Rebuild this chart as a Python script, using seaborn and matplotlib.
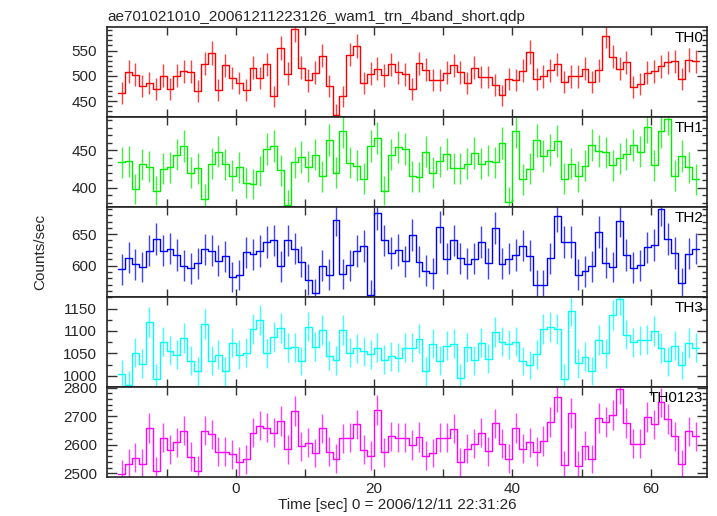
import numpy as np
import pandas as pd
import seaborn as sns
import matplotlib.pyplot as plt
from matplotlib.ticker import MultipleLocator

# 1-s bins, time relative to 2006/12/11 22:31:26
time_sec = np.arange(-16.5, 67.0, 1.0)

th0 = [466, 508, 502, 479, 486, 473, 500, 473, 500, 509,
       508, 469, 524, 545, 471, 521, 496, 486, 471, 516,
       496, 523, 459, 555, 504, 592, 516, 491, 506, 540,
       479, 423, 459, 542, 559, 486, 504, 514, 501, 523,
       507, 503, 473, 525, 512, 492, 492, 506, 521, 507,
       486, 516, 498, 498, 481, 461, 494, 492, 510, 547,
       494, 499, 511, 523, 488, 499, 499, 514, 488, 511,
       579, 538, 514, 527, 477, 483, 506, 509, 519, 527,
       529, 494, 531, 529]
th1 = [434, 435, 398, 431, 428, 396, 425, 427, 444, 455,
       420, 426, 385, 432, 448, 431, 416, 427, 406, 405,
       422, 451, 455, 423, 377, 434, 441, 428, 444, 415,
       464, 420, 475, 433, 429, 412, 455, 466, 396, 444,
       454, 452, 415, 414, 448, 420, 435, 445, 426, 426,
       432, 446, 432, 436, 434, 460, 381, 475, 411, 425,
       463, 442, 450, 462, 412, 432, 415, 429, 457, 449,
       447, 430, 439, 445, 457, 448, 481, 430, 475, 492,
       416, 442, 427, 411]
th2 = [594, 613, 602, 598, 624, 643, 624, 627, 617, 600,
       596, 604, 626, 624, 608, 615, 582, 585, 621, 618,
       623, 637, 640, 599, 640, 627, 606, 578, 556, 600,
       586, 673, 587, 601, 623, 631, 554, 683, 640, 620,
       625, 607, 648, 606, 592, 588, 661, 611, 640, 612,
       603, 611, 638, 604, 660, 603, 611, 617, 632, 616,
       569, 569, 612, 679, 637, 637, 586, 591, 599, 654,
       605, 598, 671, 617, 597, 601, 629, 633, 690, 643,
       620, 573, 619, 627]
th3 = [1003, 980, 1052, 1027, 1121, 994, 1076, 1056, 1047, 1084,
       1034, 1010, 1115, 1034, 1047, 1010, 1074, 1047, 1052, 1104,
       1125, 1050, 1087, 1107, 1063, 1064, 1033, 1110, 1065, 1102,
       1045, 1035, 1102, 1052, 1061, 1055, 1048, 1063, 1036, 1044,
       1040, 1063, 1063, 1083, 1010, 1072, 1034, 1067, 1072, 995,
       1064, 1035, 1074, 1038, 1098, 1076, 1070, 1076, 1033, 1024,
       1048, 1105, 1108, 1104, 994, 1145, 1028, 1043, 1011, 1080,
       1050, 1136, 1171, 1092, 1075, 1079, 1081, 1100, 1062, 1032,
       1067, 1024, 1073, 1063]
th0123 = [2496, 2534, 2555, 2534, 2659, 2508, 2624, 2583, 2608, 2649,
          2558, 2509, 2649, 2637, 2576, 2576, 2567, 2541, 2549, 2642,
          2667, 2660, 2642, 2683, 2584, 2718, 2594, 2607, 2571, 2657,
          2575, 2551, 2622, 2624, 2671, 2583, 2562, 2721, 2573, 2629,
          2624, 2624, 2599, 2627, 2562, 2571, 2624, 2624, 2656, 2539,
          2586, 2604, 2642, 2577, 2675, 2604, 2551, 2659, 2586, 2609,
          2575, 2613, 2680, 2768, 2528, 2712, 2526, 2597, 2550, 2694,
          2679, 2704, 2794, 2676, 2604, 2604, 2698, 2671, 2748, 2690,
          2630, 2531, 2647, 2630]

bands = ["TH0", "TH1", "TH2", "TH3", "TH0123"]
band_rates = [th0, th1, th2, th3, th0123]
band_colors = ["#ff0000", "#00ee00", "#0000ff", "#00ffff", "#ff00ff"]
ylims = [(418, 596), (374, 494), (550.5, 693), (975.5, 1176), (2488, 2803)]
yticks = [[450, 500, 550], [400, 450], [600, 650], [1000, 1050, 1100, 1150],
          [2500, 2600, 2700, 2800]]
yminor = [10, 10, 10, 25, 20]
xticks = [0, 20, 40, 60]

sns.set_style("ticks")
plt.rcParams['font.family'] = ['Liberation Sans', 'DejaVu Sans']

fig = plt.figure(figsize=(7.17, 5.16), dpi=100)
gs = fig.add_gridspec(5, 1, left=0.1488, right=0.9856, top=0.9471,
                      bottom=0.0762, hspace=0)

edges = np.append(time_sec - 0.5, time_sec[-1] + 0.5)

for k, band in enumerate(bands):
    ax = fig.add_subplot(gs[k])
    rate = np.array(band_rates[k], dtype=float)
    err = np.sqrt(rate)  # poisson error, 1 s bins
    step_df = pd.DataFrame({"time": edges, "rate": np.append(rate, rate[-1])})
    sns.lineplot(data=step_df, x="time", y="rate", ax=ax, color=band_colors[k],
                 drawstyle="steps-post", lw=1.0, estimator=None, sort=False,
                 legend=False)
    ax.errorbar(time_sec, rate, yerr=err, fmt="none", ecolor=band_colors[k],
                elinewidth=1.0, alpha=0.75, capsize=0)

    ax.set_xlim(-18.66, 68.1)
    ax.set_ylim(*ylims[k])
    ax.set_yticks(yticks[k])
    ax.yaxis.set_minor_locator(MultipleLocator(yminor[k]))
    ax.set_xticks(xticks)
    ax.xaxis.set_minor_locator(MultipleLocator(10))
    ax.set_xlabel("")
    ax.set_ylabel("")

    ax.tick_params(which="both", direction="in", top=True, right=True,
                   labelsize=11, pad=7, width=1.0, color="#333333")
    ax.tick_params(axis="y", which="major", length=7)
    ax.tick_params(axis="y", which="minor", length=3.5)
    ax.tick_params(axis="x", which="both", length=6, pad=4)
    if k < len(bands) - 1:
        ax.tick_params(axis="x", labelbottom=False)
    for sp in ax.spines.values():
        sp.set_linewidth(1.2)
        sp.set_color("#222222")

    ax.text(0.9945, 0.955, band, transform=ax.transAxes, ha="right", va="top",
            fontsize=11, color="black")

fig.text(107 / 717, 1 - 20.7 / 516, "ae701021010_20061211223126_wam1_trn_4band_short.qdp",
         ha="left", va="baseline", fontsize=11)
fig.text(40 / 717, 1 - 252 / 516, "Counts/sec", rotation=90, ha="center",
         va="center", fontsize=11)
fig.text(397 / 717, 1 - 505 / 516, "Time [sec] 0 = 2006/12/11 22:31:26",
         ha="center", va="center", fontsize=11)

fig.savefig("out.png", dpi=100)
